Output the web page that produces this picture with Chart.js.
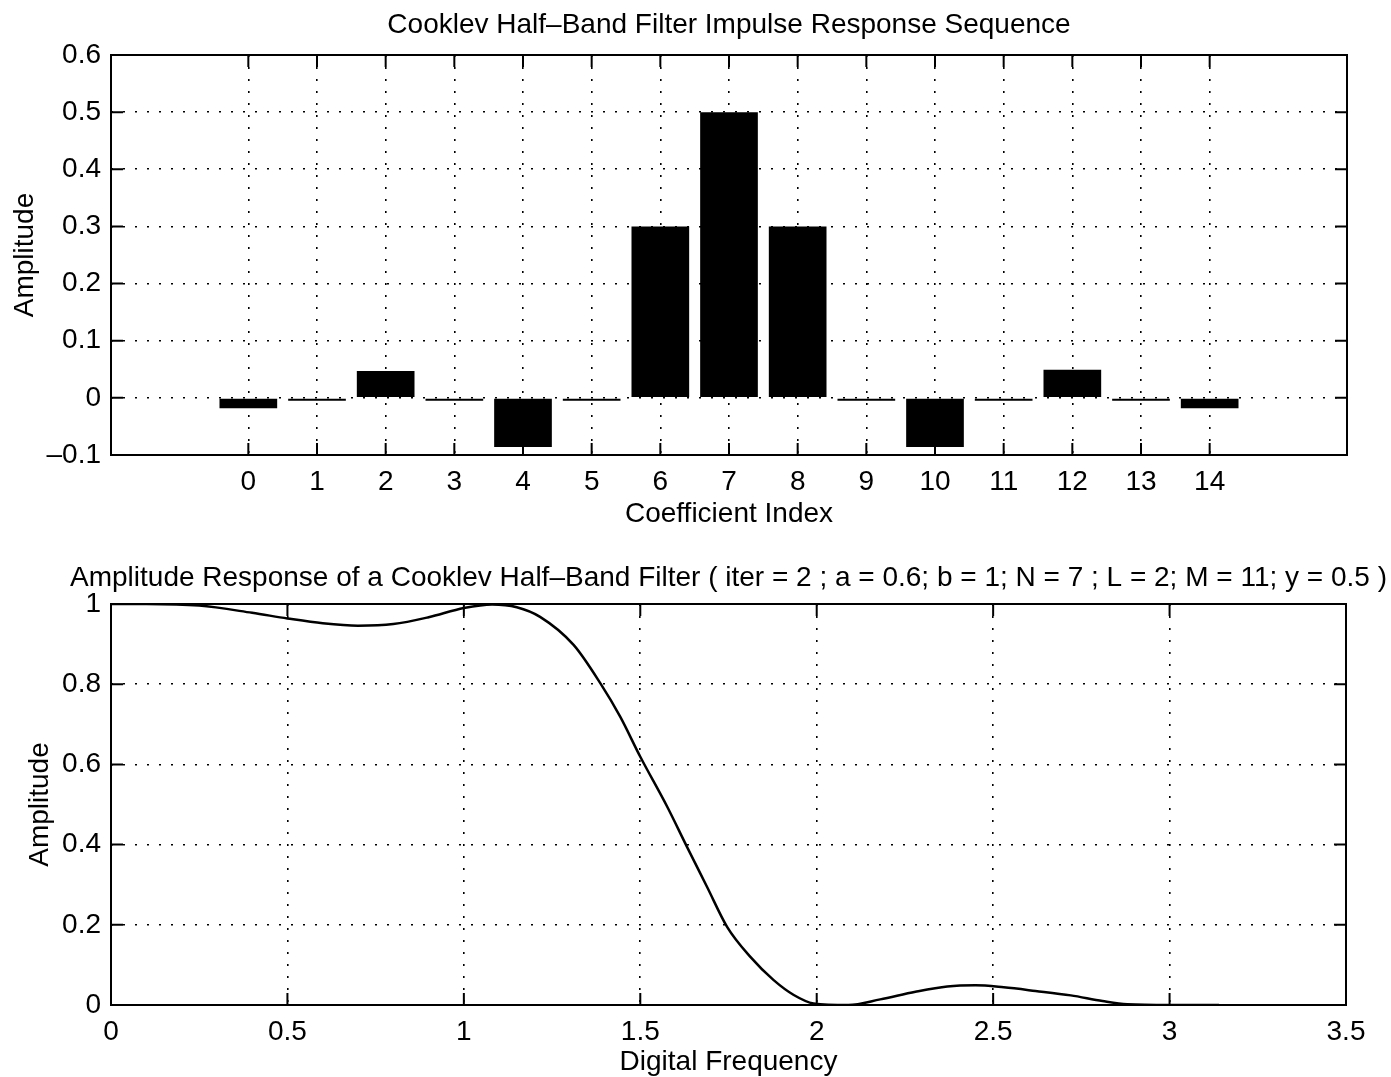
<!DOCTYPE html>
<html>
<head>
<meta charset="utf-8">
<script src="https://cdn.jsdelivr.net/npm/chart.js@4.4.1/dist/chart.umd.min.js"></script>
<style>
  body { margin: 0; background: #fff; overflow: hidden; }
  .panel { position: absolute; left: 0; }
  #top { top: 0; }
  #bottom { top: 540px; }
</style>
</head>
<body>
<div class="panel" id="top"><canvas id="impulseChart" width="1391" height="535"></canvas></div>
<div class="panel" id="bottom"><canvas id="ampChart" width="1391" height="541"></canvas></div>
<script>
// impulse response coefficients
const coeffIndex = [0, 1, 2, 3, 4, 5, 6, 7, 8, 9, 10, 11, 12, 13, 14];
const coeffValues = [-0.018, -0.005, 0.047, -0.005, -0.086, -0.005, 0.300, 0.500, 0.300, -0.005, -0.086, -0.005, 0.049, -0.005, -0.018];
const impulseYTicks = [-0.1, 0, 0.1, 0.2, 0.3, 0.4, 0.5, 0.6];

// amplitude response curve
const freqPoints = [0, 0.1, 0.25, 0.4, 0.5, 0.6, 0.7, 0.8, 0.9, 1.0, 1.08, 1.15, 1.216, 1.311, 1.387, 1.443, 1.5, 1.576, 1.632, 1.689, 1.746, 1.812, 1.878, 1.935, 1.991, 2.09, 2.18, 2.28, 2.37, 2.45, 2.53, 2.62, 2.72, 2.81, 2.88, 3.0, 3.14];
const ampPoints = [1.0, 1.0, 0.996, 0.978, 0.964, 0.952, 0.946, 0.950, 0.967, 0.990, 0.999, 0.992, 0.968, 0.898, 0.802, 0.719, 0.619, 0.495, 0.395, 0.295, 0.195, 0.120, 0.062, 0.025, 0.004, 0.0, 0.014, 0.033, 0.046, 0.049, 0.044, 0.035, 0.024, 0.010, 0.002, 0.0, 0.0];
const freqTicks = [0, 0.5, 1, 1.5, 2, 2.5, 3, 3.5];
const ampTicks = [0, 0.2, 0.4, 0.6, 0.8, 1];

Chart.defaults.font.family = '"Liberation Sans", Arial, Helvetica, sans-serif';
Chart.defaults.font.size = 28;
Chart.defaults.color = '#000';
Chart.defaults.animation = false;

// box + inward tick marks + title centred on the axes (matlab style)
const boxPlugin = {
    id: 'matlabBox',
    afterDraw(chart, args, opts) {
        const { ctx, chartArea: a } = chart;
        const x = chart.scales.x;
        const y = chart.scales.y;
        ctx.save();
        ctx.strokeStyle = '#000';
        ctx.lineWidth = 2;
        ctx.strokeRect(a.left, a.top, a.right - a.left, a.bottom - a.top);
        ctx.beginPath();
        x.ticks.forEach((t) => {
            const px = x.getPixelForValue(t.value);
            ctx.moveTo(px, a.bottom);
            ctx.lineTo(px, a.bottom - 12);
            ctx.moveTo(px, a.top);
            ctx.lineTo(px, a.top + 12);
        });
        y.ticks.forEach((t) => {
            const py = y.getPixelForValue(t.value);
            ctx.moveTo(a.left, py);
            ctx.lineTo(a.left + 12, py);
            ctx.moveTo(a.right, py);
            ctx.lineTo(a.right - 12, py);
        });
        ctx.stroke();

        if (opts.title) {
            ctx.fillStyle = '#000';
            ctx.font = '28px "Liberation Sans", Arial, Helvetica, sans-serif';
            ctx.textAlign = 'center';
            ctx.textBaseline = 'middle';
            ctx.fillText(opts.title, (a.left + a.right) / 2, opts.titleY);
        }
        ctx.restore();
    },
};

const dottedGrid = {
    grid: { color: '#000', lineWidth: 1.6, drawTicks: false },
    border: { display: false, dash: [2, 10] },
};

const fmt = (v) => {
    const s = String(Math.round(v * 10) / 10);
    return s.startsWith('-') ? '\u2013' + s.slice(1) : s;
};

new Chart(document.getElementById('impulseChart'), {
    type: 'bar',
    data: {
        datasets: [{
            data: coeffIndex.map((i, k) => ({ x: i, y: coeffValues[k] })),
            backgroundColor: '#000',
            borderWidth: 0,
            barPercentage: 0.84,
            categoryPercentage: 1,
        }],
    },
    options: {
        responsive: false,
        layout: { padding: { left: 0, right: 44, top: 55, bottom: 0 } },
        plugins: {
            legend: { display: false },
            tooltip: { enabled: false },
            matlabBox: {
                title: 'Cooklev Half\u2013Band Filter Impulse Response Sequence',
                titleY: 25,
            },
        },
        scales: {
            x: {
                type: 'linear',
                min: -2,
                max: 16,
                offset: false,
                ...dottedGrid,
                grid: { ...dottedGrid.grid, offset: false },
                afterBuildTicks: (s) => { s.ticks = coeffIndex.map((v) => ({ value: v })); },
                afterFit: (s) => { s.height = 80; },
                ticks: { padding: 10, maxRotation: 0, callback: (v) => String(v) },
                title: { display: true, text: 'Coefficient Index', padding: { top: 0, bottom: 4 } },
            },
            y: {
                min: -0.1,
                max: 0.6,
                ...dottedGrid,
                afterBuildTicks: (s) => { s.ticks = impulseYTicks.map((v) => ({ value: v })); },
                afterFit: (s) => { s.width = 111; },
                ticks: { padding: 10, callback: (v) => fmt(v) },
                title: { display: true, text: 'Amplitude', padding: { top: 8.2, bottom: 0 } },
            },
        },
    },
    plugins: [boxPlugin],
});

new Chart(document.getElementById('ampChart'), {
    type: 'line',
    data: {
        datasets: [{
            data: freqPoints.map((f, k) => ({ x: f, y: ampPoints[k] })),
            borderColor: '#000',
            borderWidth: 2.5,
            pointRadius: 0,
            cubicInterpolationMode: 'monotone',
            fill: false,
        }],
    },
    options: {
        responsive: false,
        layout: { padding: { left: 0, right: 45, top: 64, bottom: 0 } },
        plugins: {
            legend: { display: false },
            tooltip: { enabled: false },
            matlabBox: {
                title: 'Amplitude Response of a Cooklev Half\u2013Band Filter ( iter = 2 ; a = 0.6; b = 1; N = 7 ; L = 2; M = 11; y = 0.5 )',
                titleY: 38,
            },
        },
        scales: {
            x: {
                type: 'linear',
                min: 0,
                max: 3.5,
                ...dottedGrid,
                afterBuildTicks: (s) => { s.ticks = freqTicks.map((v) => ({ value: v })); },
                afterFit: (s) => { s.height = 76; },
                ticks: { padding: 10, maxRotation: 0, callback: (v) => fmt(v) },
                title: { display: true, text: 'Digital Frequency', padding: { top: 0, bottom: 2.2 } },
            },
            y: {
                min: 0,
                max: 1,
                ...dottedGrid,
                afterBuildTicks: (s) => { s.ticks = ampTicks.map((v) => ({ value: v })); },
                afterFit: (s) => { s.width = 111; },
                ticks: { padding: 10, callback: (v) => fmt(v) },
                title: { display: true, text: 'Amplitude', padding: { top: 23.2, bottom: 0 } },
            },
        },
    },
    plugins: [boxPlugin],
});
</script>
</body>
</html>
